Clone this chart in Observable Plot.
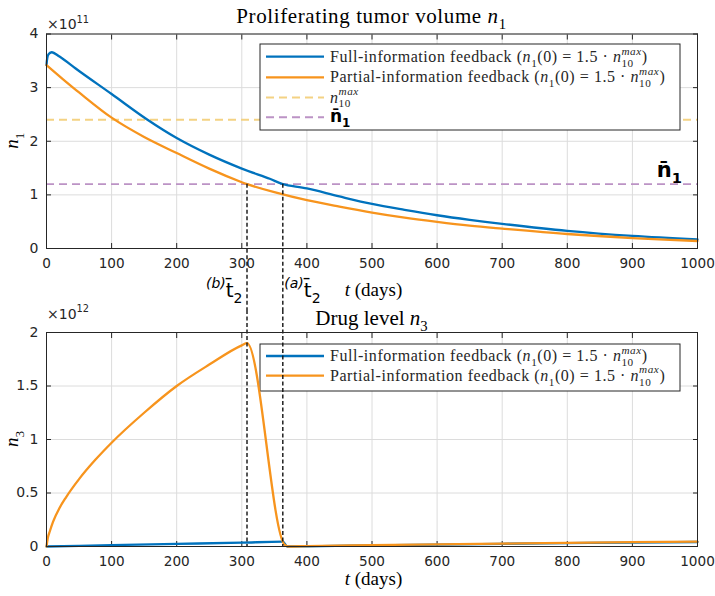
<!DOCTYPE html>
<html>
<head>
<meta charset="utf-8">
<script src="https://cdn.jsdelivr.net/npm/d3@7"></script>
<script src="https://cdn.jsdelivr.net/npm/@observablehq/plot@0.6"></script>
<style>
  html, body { margin: 0; padding: 0; background: #fff; overflow: hidden; }
  #fig { position: relative; width: 715px; height: 596px; }
  #fig svg { position: absolute; left: 0; max-width: none; }
</style>
</head>
<body>
<div id="fig"></div>
<script>
// ---------- data ----------
const tickDays = [0, 100, 200, 300, 400, 500, 600, 700, 800, 900, 1000];
const n1Ticks = [0, 1, 2, 3, 4];
const n3Ticks = [0, 0.5, 1, 1.5, 2];

// proliferating tumor volume n1 (x 1e11)
const tFullN1 = [0, 3, 8, 20, 50, 100, 154, 200, 250, 300, 343, 363, 400, 450, 500, 550, 600, 650, 700, 800, 900, 1000];
const n1Full  = [3.42, 3.62, 3.66, 3.58, 3.31, 2.88, 2.41, 2.06, 1.75, 1.49, 1.30, 1.20, 1.12, 0.97, 0.83, 0.72, 0.62, 0.535, 0.46, 0.33, 0.235, 0.17];
const tPartN1 = [0, 25, 50, 100, 150, 200, 250, 300, 308, 350, 400, 450, 500, 550, 600, 650, 700, 800, 900, 1000];
const n1Part  = [3.42, 3.16, 2.91, 2.44, 2.08, 1.78, 1.49, 1.235, 1.20, 1.05, 0.90, 0.78, 0.67, 0.575, 0.495, 0.425, 0.37, 0.27, 0.195, 0.14];

// drug level n3 (x 1e12)
const tFullN3 = [0, 100, 200, 300, 363, 370, 400, 500, 600, 700, 800, 900, 1000];
const n3Full  = [0, 0.012, 0.024, 0.036, 0.045, 0.0, 0.002, 0.010, 0.018, 0.025, 0.031, 0.037, 0.042];
const tPartN3 = [0, 2, 5, 10, 20, 30, 50, 75, 100, 150, 200, 250, 300, 308, 366, 372, 400, 500, 600, 700, 800, 900, 1000];
const n3Part  = [0, 0.08, 0.14, 0.23, 0.36, 0.46, 0.63, 0.81, 0.97, 1.25, 1.50, 1.70, 1.88, 1.90, 0.015, 0.0, 0.004, 0.012, 0.020, 0.027, 0.034, 0.040, 0.045];

const n10max = 2.4;
const nBar = 1.2;
const tBarA = 363;  // (a) full-information
const tBarB = 308;  // (b) partial-information

const seriesNames = ["Full-information feedback", "Partial-information feedback"];
const colBlue = "#0072BD", colOrange = "#F7941D";
const colYellow = "#F4D283", colPurple = "#BC93C5";

// ---------- helpers ----------
const zipT = (ts, vs) => ts.map((t, i) => ({t, v: vs[i]}));
const SERIF = "'Liberation Serif', 'Times New Roman', serif";
const SANS = "'DejaVu Sans', sans-serif";

function rich(g, x, y, parts, o) {
  const t = g.append("text").attr("x", x).attr("y", y)
    .attr("font-family", o.family).attr("font-size", o.size)
    .attr("text-anchor", o.anchor || "start").attr("fill", o.fill || "#000");
  if (o.weight) t.attr("font-weight", o.weight);
  if (o.spacing) t.attr("letter-spacing", o.spacing);
  if (o.rotate) t.attr("transform", `rotate(-90 ${x} ${y})`);
  let shift = 0;
  for (const p of parts) {
    const sp = t.append("tspan").text(p.s);
    const fs = p.size || ((p.sub || p.sup) ? o.size * 0.7 : o.size);
    sp.attr("font-size", fs);
    if (p.it) sp.attr("font-style", "italic");
    if (p.bold) sp.attr("font-weight", "bold");
    if (p.family) sp.attr("font-family", p.family);
    const target = p.sub ? o.size * 0.3 : p.sup ? -o.size * 0.45 : 0;
    if (target !== shift) { sp.attr("dy", target - shift); shift = target; }
    if (p.dx) sp.attr("dx", p.dx);
  }
  return t;
}

const LEG = 16, LEGSP = 0.55;
const legendMath = [
  {s: " ("}, {s: "n", it: 1}, {s: "1", sub: 1}, {s: "(0) = 1.5 · "},
  {s: "n", it: 1}, {s: "10", sub: 1}, {s: "max", sup: 1, it: 1, dx: -LEG * 0.7 - 2 * LEGSP}, {s: ")"}
];

function legendMark(box, rows) {
  return () => {
    const g = d3.create("svg:g");
    g.append("rect").attr("x", box.x).attr("y", box.y).attr("width", box.w).attr("height", box.h)
      .attr("fill", "white").attr("stroke", "#262626").attr("stroke-width", 1);
    rows.forEach(r => {
      g.append("line").attr("x1", box.x + 6).attr("x2", box.x + 64).attr("y1", r.y).attr("y2", r.y)
        .attr("stroke", r.color).attr("stroke-width", r.width)
        .attr("stroke-dasharray", r.dash || null);
      rich(g, box.x + 70, r.y + 5, r.parts, r.font || {family: SERIF, size: LEG, spacing: LEGSP, fill: "#262626"});
    });
    return g.node();
  };
}

const fmt = d => String(d);
const gridStyle = {stroke: "#dcdcdc", strokeOpacity: 1, strokeWidth: 1};
const innerTicks = (ticksX, ticksY) => [
  Plot.axisX(ticksX, {anchor: "bottom", tickSize: -5, tickFormat: () => "", label: null}),
  Plot.axisX(ticksX, {anchor: "top", tickSize: -5, tickFormat: () => "", label: null}),
  Plot.axisY(ticksY, {anchor: "left", tickSize: -5, tickFormat: () => "", label: null}),
  Plot.axisY(ticksY, {anchor: "right", tickSize: -5, tickFormat: () => "", label: null})
];
const lineOpts = (c, curve) => ({x: "t", y: "v", stroke: c, strokeWidth: 2.3, curve});
const blackDash = {stroke: "#111", strokeWidth: 1.4, strokeDasharray: "4,2.5"};
const dashed = "8,5";

// ---------- top panel: n1 ----------
const W = 715, mL = 46, mR = 18;
const topH = 310, topMT = 33.5, topMB = 62;

const topPlot = Plot.plot({
  width: W, height: topH,
  marginTop: topMT, marginBottom: topMB, marginLeft: mL, marginRight: mR,
  style: {fontFamily: SANS, fontSize: "14px", color: "#262626", background: "transparent", overflow: "visible"},
  x: {domain: [0, 1000]},
  y: {domain: [0, 4]},
  marks: [
    Plot.gridX(tickDays, gridStyle),
    Plot.gridY(n1Ticks, gridStyle),
    Plot.axisX(tickDays, {tickSize: 0, tickPadding: 10, label: null, fontSize: 13.6, tickFormat: fmt}),
    Plot.axisY(n1Ticks, {tickSize: 0, tickPadding: 8, label: null, fontSize: 14, tickFormat: fmt}),
    ...innerTicks(tickDays, n1Ticks),
    Plot.ruleY([n10max], {stroke: colYellow, strokeWidth: 1.9, strokeDasharray: dashed}),
    Plot.ruleY([nBar], {stroke: colPurple, strokeWidth: 1.9, strokeDasharray: dashed}),
    Plot.line(zipT(tFullN1, n1Full), lineOpts(colBlue, "catmull-rom")),
    Plot.line(zipT(tPartN1, n1Part), lineOpts(colOrange, "catmull-rom")),
    Plot.ruleX([tBarB, tBarA], {...blackDash, y1: nBar, y2: 0, insetBottom: -topMB}),
    Plot.frame({stroke: "#262626", strokeWidth: 1}),
    legendMark({x: 260, y: 44, w: 420, h: 86}, [
      {y: 56.7, color: colBlue, width: 2.3, parts: [{s: seriesNames[0]}, ...legendMath]},
      {y: 77.3, color: colOrange, width: 2.3, parts: [{s: seriesNames[1]}, ...legendMath]},
      {y: 97.5, color: colYellow, width: 1.9, dash: dashed,
       parts: [{s: "n", it: 1}, {s: "10", sub: 1}, {s: "max", sup: 1, it: 1, dx: -LEG * 0.7 - 2 * LEGSP}]},
      {y: 117.3, color: colPurple, width: 1.9, dash: dashed,
       font: {family: SANS, size: 17, weight: "bold", fill: "#000"},
       parts: [{s: "n\u0304"}, {s: "1", sub: 1}]}
    ]),
    (index, scales) => {
      const g = d3.create("svg:g");
      const xs = scales.x, ys = scales.y;
      const cx = (xs(0) + xs(1000)) / 2;
      rich(g, cx, 22.7, [{s: "Proliferating tumor volume "}, {s: "n", it: 1}, {s: "1", sub: 1}],
           {family: SERIF, size: 21, spacing: 0.6, anchor: "middle", fill: "#000"});
      rich(g, 47, 29, [{s: "×10"}, {s: "11", sup: 1}], {family: SANS, size: 14, fill: "#262626"});
      rich(g, 18, (ys(0) + ys(4)) / 2, [{s: "n", it: 1}, {s: "1", sub: 1}],
           {family: SERIF, size: 19, anchor: "middle", rotate: true, fill: "#000"});
      rich(g, cx + 2, 296, [{s: "t", it: 1}, {s: " (days)"}], {family: SERIF, size: 19, anchor: "middle", fill: "#000"});
      rich(g, xs(1000) - 15, ys(nBar) - 7, [{s: "n\u0304"}, {s: "1", sub: 1}],
           {family: SANS, size: 21, weight: "bold", anchor: "end", fill: "#000"});
      rich(g, xs(tBarB) - 4, 297, [{s: "(b)", sup: 1, it: 1}, {s: "t\u0304"}, {s: "2", sub: 1}],
           {family: SANS, size: 20, anchor: "end", fill: "#000"});
      rich(g, xs(tBarA) + 2, 297, [{s: "(a)", sup: 1, it: 1}, {s: "t\u0304"}, {s: "2", sub: 1}],
           {family: SANS, size: 20, anchor: "start", fill: "#000"});
      return g.node();
    }
  ]
});

// ---------- bottom panel: n3 ----------
const botTop = 310, botH = 286, botMT = 22, botMB = 50;
const botPlot = Plot.plot({
  width: W, height: botH,
  marginTop: botMT, marginBottom: botMB, marginLeft: mL, marginRight: mR,
  style: {fontFamily: SANS, fontSize: "14px", color: "#262626", background: "transparent", overflow: "visible"},
  x: {domain: [0, 1000]},
  y: {domain: [0, 2]},
  marks: [
    Plot.gridX(tickDays, gridStyle),
    Plot.gridY(n3Ticks, gridStyle),
    Plot.axisX(tickDays, {tickSize: 0, tickPadding: 10, label: null, fontSize: 13.6, tickFormat: fmt}),
    Plot.axisY(n3Ticks, {tickSize: 0, tickPadding: 8, label: null, fontSize: 14, tickFormat: fmt}),
    ...innerTicks(tickDays, n3Ticks),
    legendMark({x: 260, y: 34, w: 420, h: 47}, [
      {y: 46, color: colBlue, width: 2.3, parts: [{s: seriesNames[0]}, ...legendMath]},
      {y: 65.7, color: colOrange, width: 2.3, parts: [{s: seriesNames[1]}, ...legendMath]}
    ]),
    Plot.line(zipT(tFullN3, n3Full), lineOpts(colBlue, "monotone-x")),
    Plot.line(zipT(tPartN3, n3Part), lineOpts(colOrange, "monotone-x")),
    Plot.ruleX([tBarB, tBarA], {...blackDash, insetTop: -botMT}),
    Plot.frame({stroke: "#262626", strokeWidth: 1}),
    (index, scales) => {
      const g = d3.create("svg:g");
      const xs = scales.x, ys = scales.y;
      const cx = (xs(0) + xs(1000)) / 2;
      rich(g, cx, 15, [{s: "Drug level "}, {s: "n", it: 1}, {s: "3", sub: 1}],
           {family: SERIF, size: 21, anchor: "middle", fill: "#000"});
      rich(g, 47, 8.5, [{s: "×10"}, {s: "12", sup: 1}], {family: SANS, size: 14, fill: "#262626"});
      rich(g, 18, (ys(0) + ys(2)) / 2, [{s: "n", it: 1}, {s: "3", sub: 1}],
           {family: SERIF, size: 19, anchor: "middle", rotate: true, fill: "#000"});
      rich(g, cx + 2, 275, [{s: "t", it: 1}, {s: " (days)"}], {family: SERIF, size: 19, anchor: "middle", fill: "#000"});
      return g.node();
    }
  ]
});

const fig = document.getElementById("fig");
topPlot.style.top = "0px";
botPlot.style.top = botTop + "px";
fig.appendChild(topPlot);
fig.appendChild(botPlot);
</script>
</body>
</html>
